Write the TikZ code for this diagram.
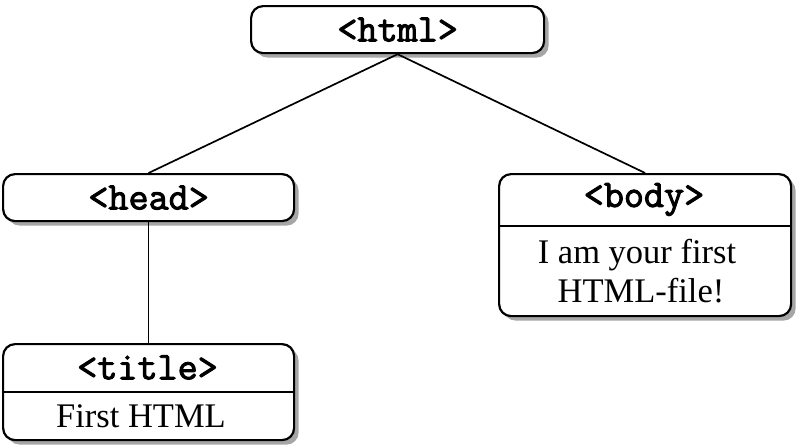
\documentclass[tikz,border=0pt]{standalone}
\usepackage{fontspec}
\setmainfont{Liberation Serif}
\newfontfamily\tagfont[FakeBold=2.5]{Latin Modern Mono}
\usetikzlibrary{shadows}
\tikzset{
  box/.style={draw=black, line width=2.2pt, rounded corners=12pt, fill=white,
    anchor=north west, inner sep=0pt,
    drop shadow={shadow xshift=4.5pt, shadow yshift=-4.5pt, fill=black!35, opacity=1}},
  tag/.style={font=\fontsize{39}{42}\tagfont, inner sep=0pt},
  txt/.style={font=\fontsize{34.5}{39}\selectfont\rmfamily, inner sep=0pt},
  link/.style={line width=1.7pt},
  divider/.style={line width=1.7pt}
}
\begin{document}
\begin{tikzpicture}[x=1pt,y=-1pt]
\useasboundingbox (0,0) rectangle (800,447);
% boxes
\node[box, minimum width=293pt, minimum height=47pt] (html) at (250,5) {};
\node[box, minimum width=291pt, minimum height=47pt] (head) at (2,173) {};
\node[box, minimum width=292pt, minimum height=142pt] (body) at (498,173) {};
\node[box, minimum width=291pt, minimum height=96pt] (title) at (2,343) {};
% dividers
\draw[divider] (body.north west) ++(0,53) coordinate (bdl) -- (bdl -| body.east);
\draw[divider] (title.north west) ++(0,49) coordinate (tdl) -- (tdl -| title.east);
% labels
\node[tag] (htmlt) at (html.center) {<html>};
\node[tag] (headt) at (head.center) {<head>};
\node[tag] (bodyt) at (644,199.5) {<body>};
\node[tag] (titlet) at (147.5,367.5) {<title>};
\node[txt, anchor=base] (bodytxt1) at (637,263) {I am your first};
\node[txt, anchor=base] (bodytxt2) at (641,302) {HTML-file!};
\node[txt, anchor=base] (titletxt) at (141,427) {First HTML};
% connectors
\draw[link] (html.south) -- (head.north);
\draw[link] (html.south) -- (body.north);
\draw[link] (head.south) -- (title.north);
\end{tikzpicture}
\end{document}
